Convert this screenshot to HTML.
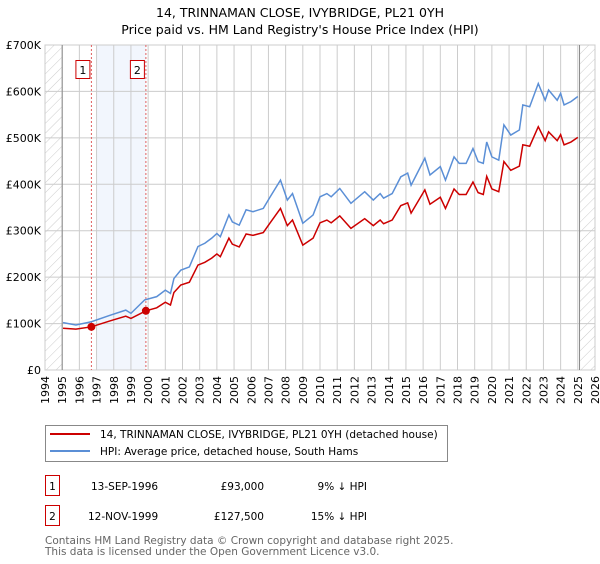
<!DOCTYPE html>
<html><head><meta charset="utf-8"><style>
body{margin:0;background:#fff;font-family:"DejaVu Sans","Liberation Sans",sans-serif;}
svg text{font-family:"DejaVu Sans","Liberation Sans",sans-serif;}
</style></head><body>
<svg id="chart" width="600" height="560" viewBox="0 0 600 560" xmlns="http://www.w3.org/2000/svg">
<defs><pattern id="hatch" width="7" height="7" patternUnits="userSpaceOnUse" patternTransform="rotate(45)"><line x1="0" y1="0" x2="0" y2="7" stroke="#ccc" stroke-width="1"/></pattern></defs>
<text x="300" y="17" text-anchor="middle" font-size="12.5">14, TRINNAMAN CLOSE, IVYBRIDGE, PL21 0YH</text>
<text x="300" y="34" text-anchor="middle" font-size="12.5">Price paid vs. HM Land Registry's House Price Index (HPI)</text>
<g id="plot"></g>
<rect x="45.5" y="425.5" width="402" height="36" fill="#fff" stroke="#888"/>
<line x1="50" y1="434" x2="90" y2="434" stroke="#cc0000" stroke-width="2"/>
<text x="100" y="438" font-size="10.5">14, TRINNAMAN CLOSE, IVYBRIDGE, PL21 0YH (detached house)</text>
<line x1="50" y1="451" x2="90" y2="451" stroke="#5b8fd6" stroke-width="2"/>
<text x="100" y="455" font-size="10.5">HPI: Average price, detached house, South Hams</text>
<g font-size="10.5">
<rect x="45.5" y="475.5" width="14" height="20" fill="none" stroke="#cc0000"/>
<text x="52.5" y="490" text-anchor="middle">1</text>
<text x="91" y="490">13-SEP-1996</text>
<text x="264" y="490" text-anchor="end">£93,000</text>
<text x="367" y="490" text-anchor="end">9% ↓ HPI</text></g>
<g font-size="10.5">
<rect x="45.5" y="505.5" width="14" height="20" fill="none" stroke="#cc0000"/>
<text x="52.5" y="520" text-anchor="middle">2</text>
<text x="88" y="520">12-NOV-1999</text>
<text x="264" y="520" text-anchor="end">£127,500</text>
<text x="367" y="520" text-anchor="end">15% ↓ HPI</text></g>
<text x="45" y="544" font-size="10.5" fill="#666">Contains HM Land Registry data © Crown copyright and database right 2025.</text>
<text x="45" y="555" font-size="10.5" fill="#666">This data is licensed under the Open Government Licence v3.0.</text>
</svg>
<script>
const hpiYears=[1995.05,1995.8,1996.7,1997.8,1998.7,1999,1999.8,2000.5,2001,2001.3,2001.5,2001.9,2002.4,2002.9,2003.3,2003.7,2004,2004.2,2004.7,2004.9,2005.3,2005.7,2006.1,2006.7,2007.1,2007.7,2008.1,2008.4,2009.0,2009.6,2010.0,2010.4,2010.65,2011.15,2011.8,2012.6,2013.1,2013.5,2013.7,2014.2,2014.7,2015.1,2015.3,2016.1,2016.4,2017.0,2017.3,2017.8,2018.1,2018.5,2018.9,2019.2,2019.5,2019.7,2020.0,2020.4,2020.7,2021.1,2021.6,2021.8,2022.2,2022.7,2023.1,2023.3,2023.8,2024.0,2024.2,2024.6,2025.0];
const hpiValues=[102,97,104,118,129,122,151,158,172,165,197,215,222,266,273,284,294,287,334,319,312,345,341,348,373,409,366,380,316,334,373,380,373,391,359,384,366,380,370,380,416,424,398,456,420,438,409,459,445,445,477,449,445,491,459,452,528,506,517,571,567,617,581,603,581,596,571,578,589];
const propYears=[1995.05,1995.8,1996.7,1997.8,1998.7,1999,1999.87,2000.5,2001,2001.3,2001.5,2001.9,2002.4,2002.9,2003.3,2003.7,2004,2004.2,2004.7,2004.9,2005.3,2005.7,2006.1,2006.7,2007.1,2007.7,2008.1,2008.4,2009.0,2009.6,2010.0,2010.4,2010.65,2011.15,2011.8,2012.6,2013.1,2013.5,2013.7,2014.2,2014.7,2015.1,2015.3,2016.1,2016.4,2017.0,2017.3,2017.8,2018.1,2018.5,2018.9,2019.2,2019.5,2019.7,2020.0,2020.4,2020.7,2021.1,2021.6,2021.8,2022.2,2022.7,2023.1,2023.3,2023.8,2024.0,2024.2,2024.6,2025.0];
const propValues=[90,88,93,106,116,111,127.5,134,146,140,167,183,189,226,232,241,250,244,284,271,265,293,290,296,317,348,311,323,269,284,317,323,317,332,305,326,311,323,315,323,354,360,338,388,357,372,348,390,378,378,405,382,378,417,390,384,449,430,439,485,482,524,494,513,494,507,485,491,501];
const saleYears=[1996.7,1999.87];
const saleValues=[93,127.5];
const saleLabels=['1','2'];
const yTicks=[0,100,200,300,400,500,600,700];
const yTickLabels=['£0','£100K','£200K','£300K','£400K','£500K','£600K','£700K'];
const xTicks=[1994,1995,1996,1997,1998,1999,2000,2001,2002,2003,2004,2005,2006,2007,2008,2009,2010,2011,2012,2013,2014,2015,2016,2017,2018,2019,2020,2021,2022,2023,2024,2025,2026];
const X0=45,X1=595,Y0=370,Y1=45;
const xs=y=>X0+(y-1994)/(2026-1994)*(X1-X0);
const ys=v=>Y0-v/700*(Y0-Y1);
const NS='http://www.w3.org/2000/svg';
const g=document.getElementById('plot');
function mk(t,a){const e=document.createElementNS(NS,t);for(const k in a)e.setAttribute(k,a[k]);g.appendChild(e);return e;}
let e;
e=mk('rect',{x:X0,y:Y1,width:xs(1995)-X0,height:Y0-Y1,fill:'url(#hatch)'});


e=mk('rect',{x:xs(2025.1),y:Y1,width:X1-xs(2025.1),height:Y0-Y1,fill:'url(#hatch)'});


e=mk('rect',{x:xs(saleYears[0])+5,y:Y1,width:xs(saleYears[1])-xs(saleYears[0])-5,height:Y0-Y1,fill:'#f2f6fd'});


yTicks.forEach((t,i)=>{
 e=mk('line',{x1:X0,x2:X1,y1:ys(t),y2:ys(t),stroke:'#ccc'});
 
 
 e=mk('text',{x:X0-4,y:ys(t)+4,'text-anchor':'end','font-size':11});
 e.textContent=yTickLabels[i];
 
 
});
xTicks.forEach(t=>{
 e=mk('line',{x1:xs(t),x2:xs(t),y1:Y1,y2:Y0,stroke:'#ccc'});
 
 
 e=mk('text',{x:0,y:0,'text-anchor':'end','font-size':11,transform:`translate(${xs(t)+4},${Y0+6}) rotate(-90)`});
 e.textContent=t;
 
 
});
e=mk('rect',{x:X0,y:Y1,width:X1-X0,height:Y0-Y1,fill:'none',stroke:'#ccc'});


[1995,2025.1].forEach(t=>{
 e=mk('line',{x1:xs(t),x2:xs(t),y1:Y1,y2:Y0,stroke:'#888'});
 
 
});
saleYears.forEach((t,i)=>{
 e=mk('line',{x1:xs(t),x2:xs(t),y1:Y1,y2:Y0,stroke:'#e06060','stroke-dasharray':'2,2'});
 
 
 e=mk('rect',{x:xs(t)-15.5,y:60.5,width:14,height:18,fill:'#fff',stroke:'#cc0000'});
 
 
 e=mk('text',{x:xs(t)-8.5,y:74,'text-anchor':'middle','font-size':11});
 e.textContent=saleLabels[i];
 
 
});
e=mk('polyline',{points:hpiYears.map((y,i)=>xs(y)+','+ys(hpiValues[i])).join(' '),fill:'none',stroke:'#5b8fd6','stroke-width':1.5});


e=mk('polyline',{points:propYears.map((y,i)=>xs(y)+','+ys(propValues[i])).join(' '),fill:'none',stroke:'#cc0000','stroke-width':1.5});


saleYears.forEach((t,i)=>{
 e=mk('circle',{cx:xs(t),cy:ys(saleValues[i]),r:4,fill:'#cc0000'});
 
 
});
</script>
</body></html>
